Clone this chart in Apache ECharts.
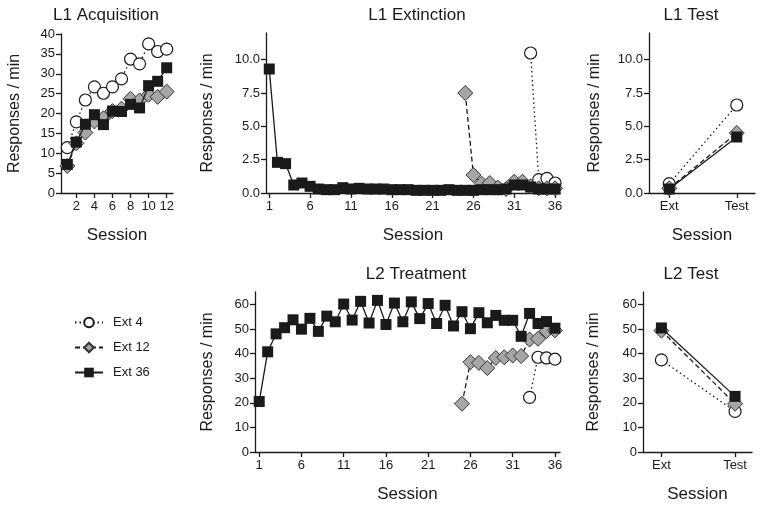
<!DOCTYPE html>
<html>
<head>
<meta charset="UTF-8">
<title>Extinction chart</title>
<script type="text/javascript" src="https://cdn.jsdelivr.net/npm/echarts@6/dist/echarts.min.js"></script>
<style>
	html, body { margin: 0; padding: 0; background: #fff; }
</style>
</head>
<body>
	<div id="main" style="width: 762px;height:507px;"></div>
</body>
<script type="text/javascript">
	// ---- data ----
	var acqSessions = [1, 2, 3, 4, 5, 6, 7, 8, 9, 10, 11, 12];
	var acqExt4 = [11.4, 17.9, 23.4, 26.7, 25.1, 26.7, 28.7, 33.7, 32.5, 37.5, 35.6, 36.2];
	var acqExt12 = [6.8, 12.5, 15.2, 18.0, 18.8, 20.6, 21.2, 23.7, 23.3, 24.7, 24.2, 25.5];
	var acqExt36 = [7.2, 12.8, 17.3, 19.7, 17.2, 20.6, 20.5, 22.3, 21.4, 27.0, 28.1, 31.5];

	var extSessions36 = [1, 2, 3, 4, 5, 6, 7, 8, 9, 10, 11, 12, 13, 14, 15, 16, 17, 18,
		19, 20, 21, 22, 23, 24, 25, 26, 27, 28, 29, 30, 31, 32, 33, 34, 35, 36];
	var extExt36 = [9.3, 2.3, 2.2, 0.6, 0.75, 0.5, 0.3, 0.25, 0.25, 0.4, 0.3, 0.35, 0.3, 0.3, 0.3, 0.25, 0.25, 0.25,
		0.2, 0.2, 0.2, 0.2, 0.25, 0.2, 0.2, 0.2, 0.25, 0.25, 0.25, 0.3, 0.6, 0.6, 0.45, 0.3, 0.3, 0.3];
	var extSessions12 = [25, 26, 27, 28, 29, 30, 31, 32, 33, 34, 35, 36];
	var extExt12 = [7.5, 1.35, 0.7, 0.75, 0.4, 0.3, 0.85, 0.85, 0.5, 0.35, 0.35, 0.35];
	var extSessions4 = [33, 34, 35, 36];
	var extExt4 = [10.5, 1.0, 1.1, 0.75];

	var testLabels = ['Ext', 'Test'];
	var l1TestExt4 = [0.7, 6.6];
	var l1TestExt12 = [0.35, 4.5];
	var l1TestExt36 = [0.3, 4.2];

	var trtSessions36 = extSessions36;
	var trtExt36 = [20.5, 40.7, 48.0, 50.5, 53.7, 49.9, 54.3, 49.0, 55.2, 52.9, 60.1, 53.6, 61.2, 52.4, 61.6, 51.8, 60.5, 52.9,
		61.0, 54.2, 60.3, 52.2, 59.6, 51.2, 57.0, 50.1, 56.6, 52.5, 55.5, 53.5, 53.5, 47.0, 56.3, 52.2, 53.0, 50.3];
	var trtSessions12 = [25, 26, 27, 28, 29, 30, 31, 32, 33, 34, 35, 36];
	var trtExt12 = [19.6, 36.5, 36.2, 34.1, 38.2, 38.5, 39.2, 39.0, 45.7, 46.0, 49.1, 49.4];
	var trtSessions4 = [33, 34, 35, 36];
	var trtExt4 = [22.2, 38.5, 38.2, 37.7];

	var l2TestExt4 = [37.4, 16.5];
	var l2TestExt12 = [49.3, 19.6];
	var l2TestExt36 = [50.4, 22.6];

	// ---- styling ----
	var ink = '#1a1a1a';
	var font = 'Liberation Sans, Arial, sans-serif';

	function pairs(xs, ys) {
		var out = [];
		for (var i = 0; i < xs.length; i++) out.push([xs[i], ys[i]]);
		return out;
	}

	function mkSeries(name, g, data) {
		var s = {
			name : name,
			type : 'line',
			xAxisIndex : g,
			yAxisIndex : g,
			data : data,
			animation : false,
			lineStyle : { color : ink, width : 1.3 },
			itemStyle : { color : ink, borderColor : ink, borderWidth : 0 }
		};
		if (name == 'Ext 4') {
			s.symbol = 'circle';
			s.symbolSize = 12;
			s.lineStyle.type = [1.5, 3];
			s.itemStyle = { color : '#fff', borderColor : ink, borderWidth : 1.2 };
			s.z = 2;
		} else if (name == 'Ext 12') {
			s.symbol = 'diamond';
			s.symbolSize = 15;
			s.lineStyle.type = [5, 3];
			s.itemStyle = { color : '#a6a6a6', borderColor : '#333', borderWidth : 1 };
			s.z = 3;
		} else {
			s.symbol = 'rect';
			s.symbolSize = 11;
			s.z = 4;
		}
		return s;
	}

	function xAx(g, min, max, ticks, names) {
		return {
			type : 'value', gridIndex : g, min : min, max : max,
			axisLine : { show : true, onZero : false, lineStyle : { color : ink, width : 1.3 } },
			axisTick : { show : true, length : 5, customValues : ticks, lineStyle : { color : ink, width : 1.3 } },
			axisLabel : {
				customValues : ticks, color : ink, fontSize : 13, fontFamily : font, margin : 7,
				formatter : function (v) { return names ? names[Math.round(v) - 1] : String(v); }
			},
			splitLine : { show : false },
			name : 'Session', nameLocation : 'middle', nameGap : 34,
			nameTextStyle : { color : ink, fontSize : 17, fontFamily : font }
		};
	}

	function yAx(g, max, ticks, dec, gap) {
		return {
			type : 'value', gridIndex : g, min : 0, max : max,
			axisLine : { show : true, onZero : false, lineStyle : { color : ink, width : 1.3 } },
			axisTick : { show : true, length : 5, customValues : ticks, lineStyle : { color : ink, width : 1.3 } },
			axisLabel : {
				customValues : ticks, color : ink, fontSize : 13, fontFamily : font, margin : 6,
				formatter : function (v) { return dec ? v.toFixed(1) : String(v); }
			},
			splitLine : { show : false },
			name : 'Responses / min', nameLocation : 'middle', nameGap : gap,
			nameTextStyle : { color : ink, fontSize : 16, fontFamily : font }
		};
	}

	var myChart = echarts.init(document.getElementById('main'));

	var titleStyle = { color : ink, fontSize : 17, fontWeight : 'normal', fontFamily : font };
	option = {
		backgroundColor : '#fff',
		animation : false,
		title : [
			{ text : 'L1 Acquisition', left : 106, top : 7, textAlign : 'center', padding : 0, textStyle : titleStyle },
			{ text : 'L1 Extinction', left : 417, top : 7, textAlign : 'center', padding : 0, textStyle : titleStyle },
			{ text : 'L1 Test', left : 691, top : 7, textAlign : 'center', padding : 0, textStyle : titleStyle },
			{ text : 'L2 Treatment', left : 416, top : 266, textAlign : 'center', padding : 0, textStyle : titleStyle },
			{ text : 'L2 Test', left : 691, top : 266, textAlign : 'center', padding : 0, textStyle : titleStyle }
		],
		legend : {
			data : ['Ext 4', 'Ext 12', 'Ext 36'],
			orient : 'vertical',
			left : 69, top : 311,
			itemWidth : 28, itemHeight : 12, itemGap : 12,
			selectedMode : false,
			textStyle : { color : ink, fontSize : 13, fontFamily : font, padding : [0, 0, 0, 5] }
		},
		grid : [
			{ left : 61, top : 34, width : 112, height : 159 },
			{ left : 266, top : 33, width : 294, height : 160 },
			{ left : 649, top : 33, width : 106, height : 160 },
			{ left : 255, top : 292, width : 305, height : 160 },
			{ left : 643, top : 292, width : 109, height : 160 }
		],
		xAxis : [
			xAx(0, 0.3, 12.7, [2, 4, 6, 8, 10, 12]),
			xAx(1, 0.6, 36.6, [1, 6, 11, 16, 21, 26, 31, 36]),
			xAx(2, 0.7, 2.27, [1, 2], testLabels),
			xAx(3, 0.5, 36.6, [1, 6, 11, 16, 21, 26, 31, 36]),
			xAx(4, 0.75, 2.23, [1, 2], testLabels)
		],
		yAxis : [
			yAx(0, 40, [0, 5, 10, 15, 20, 25, 30, 35, 40], false, 38),
			yAx(1, 12, [0, 2.5, 5, 7.5, 10], true, 50),
			yAx(2, 12, [0, 2.5, 5, 7.5, 10], true, 46),
			yAx(3, 65, [0, 10, 20, 30, 40, 50, 60], false, 39),
			yAx(4, 65, [0, 10, 20, 30, 40, 50, 60], false, 41)
		],
		series : [
			mkSeries('Ext 4', 0, pairs(acqSessions, acqExt4)),
			mkSeries('Ext 12', 0, pairs(acqSessions, acqExt12)),
			mkSeries('Ext 36', 0, pairs(acqSessions, acqExt36)),

			mkSeries('Ext 4', 1, pairs(extSessions4, extExt4)),
			mkSeries('Ext 12', 1, pairs(extSessions12, extExt12)),
			mkSeries('Ext 36', 1, pairs(extSessions36, extExt36)),

			mkSeries('Ext 4', 2, pairs([1, 2], l1TestExt4)),
			mkSeries('Ext 12', 2, pairs([1, 2], l1TestExt12)),
			mkSeries('Ext 36', 2, pairs([1, 2], l1TestExt36)),

			mkSeries('Ext 4', 3, pairs(trtSessions4, trtExt4)),
			mkSeries('Ext 12', 3, pairs(trtSessions12, trtExt12)),
			mkSeries('Ext 36', 3, pairs(trtSessions36, trtExt36)),

			mkSeries('Ext 4', 4, pairs([1, 2], l2TestExt4)),
			mkSeries('Ext 12', 4, pairs([1, 2], l2TestExt12)),
			mkSeries('Ext 36', 4, pairs([1, 2], l2TestExt36))
		]
	};
	myChart.setOption(option);
</script>
</html>
